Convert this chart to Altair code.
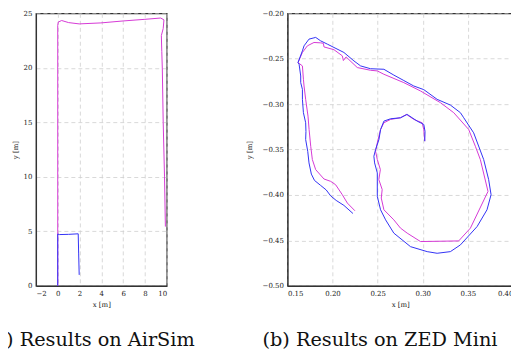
import altair as alt
import pandas as pd

# ---------------- (a) AirSim ----------------
airsim_magenta_x = [0.0, 0.0, 0.0, 0.05, 0.36, 1.0, 1.97, 3.96, 6.0, 8.0, 9.45, 9.75,
                    9.68, 9.51, 9.55, 9.6, 9.68, 9.8, 9.88]
airsim_magenta_y = [0.0, 5.0, 23.9, 24.2, 24.34, 24.15, 24.03, 24.12, 24.3, 24.45, 24.57, 24.4,
                    23.6, 22.96, 21.5, 19.9, 15.0, 10.06, 5.43]
airsim_blue_x = [0.0, 0.0, 0.15, 1.0, 1.88, 1.92, 1.97]
airsim_blue_y = [0.0, 4.75, 4.70, 4.72, 4.77, 3.0, 1.0]

# ---------------- (b) ZED Mini ----------------
zed_magenta_x = [0.2248, 0.2164, 0.2108, 0.2034, 0.1979, 0.1905, 0.1813, 0.1776, 0.1758, 0.1740,
                 0.1728, 0.1702, 0.1684, 0.1677, 0.1666, 0.1617, 0.1666, 0.1721, 0.1794, 0.1868,
                 0.1898, 0.1905, 0.2015, 0.2108, 0.2120, 0.2150, 0.2274, 0.2421, 0.2496, 0.2569,
                 0.2790, 0.2975, 0.3196, 0.3343, 0.3509, 0.3583, 0.3638, 0.3723, 0.3528, 0.3398,
                 0.2975, 0.2827, 0.2753, 0.2679, 0.2569, 0.2540, 0.2550, 0.2513, 0.2530, 0.2496,
                 0.2477, 0.2496, 0.2532, 0.2569, 0.2643, 0.2753, 0.2819, 0.2901, 0.2993, 0.3011,
                 0.3022]
zed_magenta_y = [-0.4174, -0.4089, -0.3997, -0.3887, -0.3850, -0.3824, -0.3721, -0.3610, -0.3464, -0.3280,
                 -0.3132, -0.2947, -0.2800, -0.2726, -0.2579, -0.2542, -0.2431, -0.2358, -0.2321, -0.2325,
                 -0.2330, -0.2370, -0.2400, -0.2468, -0.2520, -0.2480, -0.2597, -0.2627, -0.2634, -0.2671,
                 -0.2763, -0.2855, -0.2984, -0.3094, -0.3279, -0.3464, -0.3610, -0.3961, -0.4365, -0.4506,
                 -0.4513, -0.4420, -0.4365, -0.4274, -0.4163, -0.4034, -0.3940, -0.3831, -0.3720, -0.3610,
                 -0.3519, -0.3426, -0.3280, -0.3205, -0.3168, -0.3150, -0.3113, -0.3168, -0.3205, -0.3280,
                 -0.3408]
zed_blue_x = [0.2226, 0.2126, 0.2040, 0.1979, 0.1930, 0.1868, 0.1800, 0.1765, 0.1739, 0.1725,
              0.1702, 0.1705, 0.1702, 0.1677, 0.1666, 0.1666, 0.1647, 0.1647, 0.1629, 0.1617,
              0.1666, 0.1684, 0.1739, 0.1794, 0.1813, 0.1868, 0.1942, 0.2016, 0.2126, 0.2237,
              0.2311, 0.2421, 0.2569, 0.2679, 0.2790, 0.2900, 0.3011, 0.3159, 0.3306, 0.3417,
              0.3454, 0.3564, 0.3675, 0.3730, 0.3757, 0.3712, 0.3602, 0.3417, 0.3306, 0.3159,
              0.3049, 0.2864, 0.2679, 0.2588, 0.2532, 0.2496, 0.2496, 0.2466, 0.2458, 0.2477,
              0.2514, 0.2532, 0.2569, 0.2643, 0.2753, 0.2827, 0.2938, 0.3011, 0.3025, 0.3022]
zed_blue_y = [-0.4204, -0.4115, -0.4060, -0.4010, -0.3945, -0.3895, -0.3840, -0.3770, -0.3647, -0.3520,
              -0.3390, -0.3300, -0.3205, -0.3094, -0.2947, -0.2837, -0.2763, -0.2690, -0.2560, -0.2542,
              -0.2413, -0.2358, -0.2284, -0.2270, -0.2265, -0.2303, -0.2339, -0.2376, -0.2431, -0.2524,
              -0.2579, -0.2610, -0.2616, -0.2680, -0.2740, -0.2800, -0.2840, -0.2947, -0.3010, -0.3094,
              -0.3150, -0.3316, -0.3610, -0.3830, -0.3997, -0.4163, -0.4348, -0.4550, -0.4624, -0.4642,
              -0.4624, -0.4569, -0.4420, -0.4274, -0.4163, -0.4016, -0.3757, -0.3647, -0.3574, -0.3500,
              -0.3390, -0.3280, -0.3187, -0.3161, -0.3150, -0.3113, -0.3187, -0.3223, -0.3300, -0.3408]

captions = ["(a) Results on AirSim", "(b) Results on ZED Mini"]
airsim_x_ticks = [-2, 0, 2, 4, 6, 8, 10]
airsim_y_ticks = [0, 5, 10, 15, 20, 25]
zed_x_ticks = [0.15, 0.20, 0.25, 0.30, 0.35, 0.40]
zed_y_ticks = [-0.50, -0.45, -0.40, -0.35, -0.30, -0.25, -0.20]

MAGENTA = "#d63ad6"
BLUE = "#3333f5"
FONT = "DejaVu Serif"


def table(xs, ys):
    return pd.DataFrame({"x": xs, "y": ys, "i": list(range(len(xs)))})


def panel(mag, blue, xdom, ydom, xt, yt, xfmt, yfmt, w, h, caption, cap_x, ytitle_pad):
    xs = alt.Scale(domain=xdom, nice=False, zero=False)
    ys = alt.Scale(domain=ydom, nice=False, zero=False)
    xa = alt.Axis(values=xt, format=xfmt, title="x [m]")
    ya = alt.Axis(values=yt, format=yfmt, title="y [m]", titlePadding=ytitle_pad)
    enc = dict(
        x=alt.X("x:Q", scale=xs, axis=xa),
        y=alt.Y("y:Q", scale=ys, axis=ya),
        order=alt.Order("i:Q"),
    )
    m = alt.Chart(mag).mark_line(color=MAGENTA, strokeWidth=1).encode(**enc)
    b = alt.Chart(blue).mark_line(color=BLUE, strokeWidth=1).encode(**enc)
    cap = alt.Chart(pd.DataFrame({"c": [caption]})).mark_text(
        font=FONT, fontSize=19.3, align="left", baseline="alphabetic", color="#111"
    ).encode(text="c:N", x=alt.value(cap_x), y=alt.value(333))
    return alt.layer(m, b, cap).properties(width=w, height=h)


left = panel(table(airsim_magenta_x, airsim_magenta_y), table(airsim_blue_x, airsim_blue_y),
             [-2, 10], [0, 25], airsim_x_ticks, airsim_y_ticks, "d", "d",
             131, 273, captions[0], -49, 5)
right = panel(table(zed_magenta_x, zed_magenta_y), table(zed_blue_x, zed_blue_y),
              [0.15, 0.40], [-0.50, -0.20], zed_x_ticks, zed_y_ticks, ".2f", ".2f",
              226, 273, captions[1], -25, 10)

chart = alt.hconcat(left, right, spacing=121, bounds="flush").properties(
    padding={"left": -22, "top": 0, "right": -3, "bottom": 0}
).configure_view(
    stroke="#333", strokeWidth=1.2
).configure_axis(
    labelFont=FONT, labelFontSize=7, labelColor="#222", labelPadding=4,
    titleFont=FONT, titleFontSize=7, titleFontWeight="normal", titleColor="#222",
    grid=True, gridColor="#cfcfcf", gridDash=[4, 3], gridWidth=0.8,
    domain=True, domainColor="#333", domainWidth=1.2, ticks=False,
)

chart.save("out.html", embed_options={"renderer": "svg", "actions": False})
